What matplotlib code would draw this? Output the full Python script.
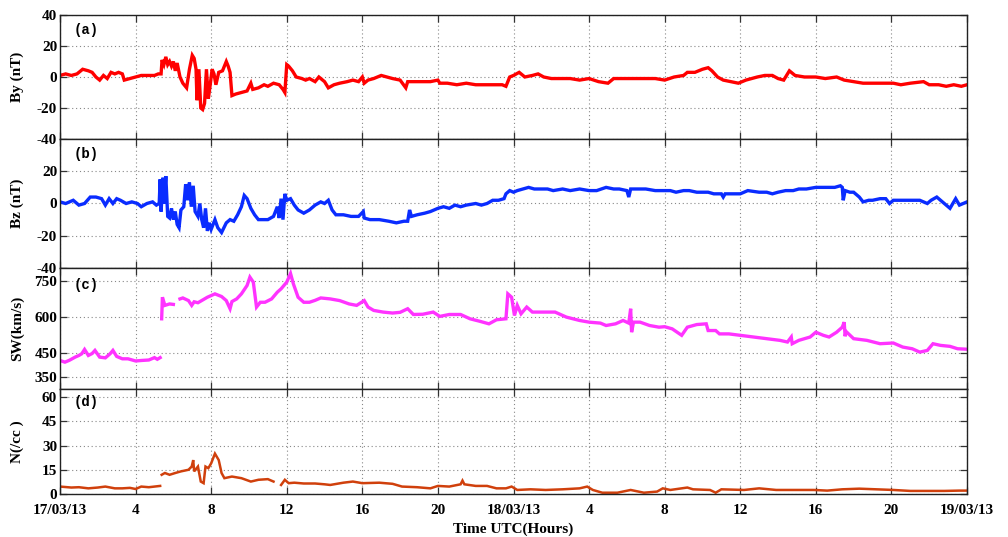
import numpy as np
import matplotlib
matplotlib.use("Agg")
import matplotlib.pyplot as plt

nan = np.nan

# ---------------- data (hours since 17/03/13 00 UTC) ----------------
by_t = [0, 0.3, 0.6, 0.9, 1.2, 1.5, 1.7, 1.9, 2.1, 2.3, 2.5, 2.7, 2.9, 3.1, 3.3, 3.4, 3.7, 4.0, 4.3, 4.6,
        5.0, 5.2, 5.35, 5.4, 5.5, 5.6, 5.7, 5.8, 5.9, 6.0, 6.1, 6.2, 6.35, 6.5, 6.7, 6.85, 7.0, 7.1, 7.2,
        7.25, 7.35, 7.45, 7.55, 7.65, 7.75, 7.85, 7.95, 8.05, 8.15, 8.25, 8.4, 8.6, 8.8, 8.9, 9.0, 9.1,
        9.3, 9.6, 9.9, 10.1, 10.2, 10.5, 10.8, 11.0, 11.3, 11.6, 11.8, 11.9, 12.0, 12.1, 12.3, 12.5,
        12.8, 13.0, 13.2, 13.5, 13.7, 14.0, 14.2, 14.5, 14.8, 15.2, 15.5, 15.8, 16.0, 16.1, 16.3, 16.6,
        17.0, 17.3, 17.6, 18.0, 18.3, 18.4, 18.8, 19.2, 19.6, 20.0, 20.1, 20.5, 21.0, 21.5, 22.0, 22.5,
        23.0, 23.4, 23.6, 23.8, 24.0, 24.3, 24.6, 25.0, 25.3, 25.6, 26.0, 26.5, 27.0, 27.5, 28.0, 28.5,
        29.0, 29.3, 29.8, 30.5, 31.0, 31.5, 32.0, 32.5, 33.0, 33.2, 33.6, 34.0, 34.3, 34.5, 34.8, 35.1,
        35.5, 35.9, 36.3, 36.9, 37.3, 37.7, 38.0, 38.3, 38.6, 38.9, 39.4, 40.0, 40.5, 41.1, 41.5, 42.0,
        42.5, 43.0, 43.5, 44.1, 44.5, 45.0, 45.7, 46.0, 46.5, 46.9, 47.3, 47.7, 48.0]
by_v = [1, 2, 1, 2, 5, 4, 3, 0, -2, 1, -1, 3, 2, 3, 2, -2, -1, 0, 1, 1,
        1, 2, 2, 11, 8, 13, 8, 10, 7, 10, 4, 9, 0, -4, -7, 5, 14, 12, 5,
        -15, 5, -20, -21, -17, 5, -14, -5, 5, 2, -5, 3, 4, 10, 7, 3, -12,
        -11, -10, -9, -4, -8, -7, -5, -6, -4, -5, -8, -10, 8, 7, 4, 0,
        -1, -2, -1, -3, 0, -3, -7, -5, -4, -3, -2, -3, 0, -4, -2, -1,
        1, 0, -1, -2, -7, -3, -3, -3, -3, -2, -4, -4, -5, -4, -5, -5,
        -5, -5, -6, 0, 1, 3, 0, 1, 2, 0, -1, -1, -1, -2, -1, -3,
        -4, -1, -1, -1, -1, -1, -2, 0, 1, 3, 3, 5, 6, 4, 0, -2,
        -3, -4, -2, 0, 1, 1, -1, -2, 4, 1, 0, 0, -1, 0, -2, -3,
        -4, -4, -4, -4, -5, -4, -3, -5, -5, -6, -5, -6, -5]

bz_t = [0, 0.3, 0.5, 0.7, 1.0, 1.3, 1.6, 1.9, 2.2, 2.4, 2.6, 2.8, 3.0, 3.2, 3.5, 3.8, 4.1, 4.3, 4.6, 4.9,
        5.1, 5.25, 5.3, 5.35, 5.45, 5.5, 5.6, 5.7, 5.8, 5.9, 6.0, 6.1, 6.2, 6.3, 6.4, 6.55, 6.65, 6.75,
        6.85, 6.95, 7.05, 7.15, 7.3, 7.4, 7.5, 7.6, 7.7, 7.8, 7.9, 8.0, 8.2, 8.35, 8.55, 8.8, 9.0, 9.2,
        9.4, 9.6, 9.75, 9.9, 10.1, 10.3, 10.5, 10.8, 11.0, 11.3, 11.5, 11.6, 11.7, 11.8, 11.9, 12.0,
        12.2, 12.4, 12.6, 12.9, 13.2, 13.5, 13.8, 14.0, 14.2, 14.4, 14.6, 15.0, 15.4, 15.8, 16.05, 16.1,
        16.4, 16.9, 17.4, 17.8, 18.2, 18.4, 18.5, 18.6, 18.9, 19.3, 19.6, 20.0, 20.3, 20.6, 20.9, 21.2,
        21.5, 22.0, 22.3, 22.6, 22.9, 23.2, 23.5, 23.6, 23.8, 24.0, 24.2, 24.5, 24.8, 25.1, 25.4, 25.8,
        26.1, 26.6, 27.0, 27.5, 28.0, 28.4, 28.9, 29.3, 29.6, 30.0, 30.1, 30.2, 30.6, 31.0, 31.5, 31.9,
        32.3, 32.6, 33.0, 33.3, 33.7, 34.0, 34.3, 34.6, 35.0, 35.1, 35.2, 35.6, 36.0, 36.4, 37.0, 37.4,
        37.7, 38.0, 38.4, 38.8, 39.1, 39.5, 40.0, 40.5, 41.0, 41.3, 41.4, 41.45, 41.55, 41.8, 42.0, 42.3,
        42.5, 42.8, 43.0, 43.4, 43.7, 43.9, 44.1, 44.4, 44.8, 45.2, 45.5, 45.9, 46.1, 46.4, 46.6, 46.8,
        47.1, 47.3, 47.4, 47.6, 47.8, 48.0]
bz_v = [1, 0, 1, 2, -1, 0, 4, 4, 3, -1, 3, 0, 3, 2, 0, 1, 0, -2, 0, 1,
        -1, 0, 15, -5, 16, 0, 17, -8, -9, -3, -10, -5, -13, -15, -4, -2, 12, 2,
        13, -2, 11, -5, -8, 0, -10, -15, -3, -17, -12, -16, -10, -15, -18, -12, -10, -11,
        -7, -2, 5, 3, -3, -7, -10, -10, -10, -8, -2, -9, 3, -10, 6, 2,
        3, -1, -4, -6, -4, -1, 1, 0, 2, -4, -7, -7, -8, -8, -5, -9,
        -10, -10, -11, -12, -11, -11, -4, -8, -7, -6, -5, -3, -2, -3, -1, -2,
        -1, 0, -1, 0, 2, 2, 3, 6, 8, 7, 8, 9, 10, 9, 9, 9,
        8, 9, 8, 9, 8, 8, 10, 9, 9, 8, 4, 9, 9, 9, 8, 8,
        8, 7, 8, 8, 7, 7, 7, 6, 6, 4, 6, 6, 6, 8, 7, 7,
        6, 7, 8, 8, 9, 9, 10, 10, 10, 11, 10, 2, 8, 7, 7, 4,
        1, 2, 2, 3, 3, 0, 2, 2, 2, 2, 2, 0, 2, 4, 2, 0,
        -3, 1, 3, -1, 0, 1]

sw_t = [0, 0.26, 0.5, 0.8, 1.0, 1.15, 1.3, 1.5, 1.7, 1.85, 2.1, 2.4, 2.65, 2.8, 3.0, 3.3, 3.6, 4.0, 4.3,
        4.7, 5.0, 5.15, 5.3, 5.34, 5.38, 5.42, 5.55, 5.8, 6.0, 6.1, 6.35, 6.5, 6.8, 6.97, 7.1, 7.3, 7.5,
        7.8, 8.0, 8.2, 8.55, 8.8, 9.0, 9.1, 9.35, 9.6, 9.9, 10.05, 10.23, 10.4, 10.6, 10.85, 11.2, 11.5,
        11.7, 12.0, 12.2, 12.35, 12.6, 12.9, 13.2, 13.5, 13.8, 14.3, 14.8, 15.3, 15.7, 15.96, 16.1, 16.3,
        16.6, 17.1, 17.6, 18.0, 18.4, 18.7, 19.2, 19.75, 20.1, 20.6, 21.2, 21.7, 22.2, 22.7, 23.1, 23.6,
        23.7, 23.9, 24.05, 24.2, 24.4, 24.7, 25.0, 25.6, 26.2, 26.8, 27.5, 28.0, 28.6, 28.9, 29.4, 29.8,
        30.1, 30.2, 30.25, 30.35, 30.7, 31.2, 31.7, 32.0, 32.4, 32.9, 33.2, 33.7, 34.2, 34.3, 34.7, 34.9,
        35.4, 36.0, 36.7, 37.4, 38.1, 38.5, 38.7, 38.75, 39.1, 39.7, 40.0, 40.4, 40.7, 41.1, 41.4, 41.5,
        41.55, 41.6, 42.0, 42.7, 43.4, 44.1, 44.6, 45.1, 45.5, 45.9, 46.2, 46.6, 47.1, 47.5, 48.0]
sw_v = [419, 412, 420, 433, 440, 447, 465, 440, 448, 461, 433, 430, 447, 461, 436, 426, 426, 417, 419,
        421, 431, 424, 431, nan, 593, 683, 649, 655, 653, nan, 676, 680, 669, 649, 664, 660, 669,
        683, 690, 697, 686, 669, 635, 665, 676, 697, 732, 767, 746, 642, 662, 662, 676, 704,
        718, 746, 782, 739, 683, 662, 662, 670, 680, 676, 669, 655, 649, 662, 669, 642,
        628, 621, 617, 620, 635, 611, 612, 621, 603, 611, 611, 593, 583, 572, 589, 593,
        697, 683, 607, 649, 614, 642, 621, 621, 621, 600, 586, 579, 575, 565, 572, 586,
        575, 635, 537, 579, 579, 565, 558, 560, 551, 524, 558, 569, 572, 544, 544, 530,
        530, 524, 517, 510, 503, 496, 517, 489, 503, 517, 537, 524, 517, 537, 558, 579,
        520, 540, 510, 503, 489, 492, 475, 468, 454, 461, 489, 482, 478, 468, 466]

n_t = [0, 0.6, 1.0, 1.5, 2.0, 2.4, 2.9, 3.3, 3.7, 4.0, 4.3, 4.7, 5.0, 5.3, 5.34, 5.38, 5.55, 5.8, 6.1,
       6.4, 6.8, 6.97, 7.05, 7.1, 7.3, 7.45, 7.6, 7.7, 7.85, 8.0, 8.2, 8.4, 8.55, 8.7, 9.1, 9.6, 10.1,
       10.5, 11.0, 11.3, 11.4, 11.7, 11.9, 12.1, 12.4, 12.9, 13.5, 14.0, 14.3, 15.0, 15.5, 16.0, 16.9,
       17.6, 18.1, 18.9, 19.6, 20.0, 20.6, 21.2, 21.3, 21.4, 22.0, 22.6, 23.1, 23.6, 23.9, 24.2, 24.9,
       25.7, 26.6, 27.5, 27.9, 28.2, 28.7, 29.5, 30.2, 30.9, 31.6, 31.9, 32.3, 33.2, 33.5, 34.4, 34.7,
       35.0, 36.2, 37.0, 37.9, 38.8, 39.9, 40.6, 41.4, 42.3, 43.2, 44.1, 45.0, 45.9, 46.8, 47.6, 48.0]
n_v = [4.6, 4.0, 4.2, 3.5, 4.0, 4.6, 3.5, 3.5, 3.8, 3.1, 4.6, 4.2, 4.6, 5.0, nan, 11.9, 13, 11.9, 13,
       14, 15, 17, 21, 14, 17, 7.7, 6.7, 17, 16, 19, 25, 21, 13, 9.8, 10.8, 9.8, 7.7,
       8.8, 9.2, 7.7, nan, 5.6, 8.8, 6.7, 7.0, 6.5, 6.5, 6.0, 5.6, 7.0, 7.7, 6.7, 7.0,
       6.3, 4.6, 4.2, 3.5, 5.0, 4.6, 6.0, 8.3, 6.0, 5.0, 5.0, 3.5, 3.5, 4.6, 2.5, 2.9,
       2.5, 2.9, 3.5, 4.6, 2.5, 0.8, 0.8, 2.5, 0.8, 1.5, 3.5, 2.5, 4.0, 2.9, 2.5, 0.8,
       2.9, 2.5, 3.5, 2.5, 2.5, 2.5, 2.1, 2.9, 3.3, 2.9, 2.5, 1.9, 1.9, 1.9, 2.1, 2.1]

xtick_pos = [0, 4, 8, 12, 16, 20, 24, 28, 32, 36, 40, 44, 48]
xtick_lab = ["17/03/13", "4", "8", "12", "16", "20", "18/03/13", "4", "8", "12", "16", "20", "19/03/13"]

panel_tags = ["(a)", "(b)", "(c)", "(d)"]
ylabels = ["By (nT)", "Bz (nT)", "SW(km/s)", "N(/cc )"]
yticks_list = [[-40, -20, 0, 20, 40], [-40, -20, 0, 20], [350, 450, 600, 750], [0, 15, 30, 45, 60]]
ylims = [(-40, 40), (-40, 40), (300, 805), (0, 65)]
colors = ["#ff0000", "#0a2cff", "#ff33ff", "#d0400c"]
series = [(by_t, by_v), (bz_t, bz_v), (sw_t, sw_v), (n_t, n_v)]
lws = [2.4, 2.4, 2.4, 1.8]

# ---------------- figure ----------------
plt.rcParams['font.family'] = ['Liberation Serif', 'DejaVu Serif']
plt.rcParams['font.weight'] = 'bold'

fig = plt.figure(figsize=(10.08, 5.37), dpi=100)
W, H = 1008, 537
left, right = 60, 967
bounds = [(15, 139), (139, 268), (268, 389), (389, 494)]

for i, (top, bot) in enumerate(bounds):
    ax = fig.add_axes([left / W, 1 - bot / H, (right - left) / W, (bot - top) / H])
    t, v = series[i]
    ax.plot(t, v, color=colors[i], lw=lws[i], solid_joinstyle='miter')
    ax.set_xlim(0, 48)
    ax.set_ylim(*ylims[i])
    ax.set_yticks(yticks_list[i])
    ax.set_yticklabels([str(y) for y in yticks_list[i]], fontsize=11, fontweight='bold')
    ax.set_xticks(xtick_pos)
    ax.grid(True, color='#888888', linestyle=(0, (1, 2.5)), linewidth=0.8)
    ax.tick_params(direction='in', top=True, right=True, length=5, width=0.9, color='#333333')
    ax.tick_params(axis='y', pad=2)
    if i == 3:
        ax.set_xticklabels(xtick_lab, fontsize=11, fontweight='bold')
        ax.tick_params(axis='x', pad=7)
        ax.set_xlabel("Time UTC(Hours)", fontsize=11, fontweight='bold', labelpad=4)
    else:
        ax.set_xticklabels([])
    for s in ax.spines.values():
        s.set_linewidth(1.0)
        s.set_color('#222222')
    ax.set_ylabel(ylabels[i], fontsize=11, fontweight='bold')
    ax.yaxis.set_label_coords(-0.040, 0.5)
    ax.text(0.015, 0.88 if i != 2 else 0.86, panel_tags[i], transform=ax.transAxes,
            fontsize=10, fontweight='bold', family=['Liberation Mono', 'DejaVu Sans Mono'],
            ha='left', va='center')

fig.savefig("out.png", dpi=100)
